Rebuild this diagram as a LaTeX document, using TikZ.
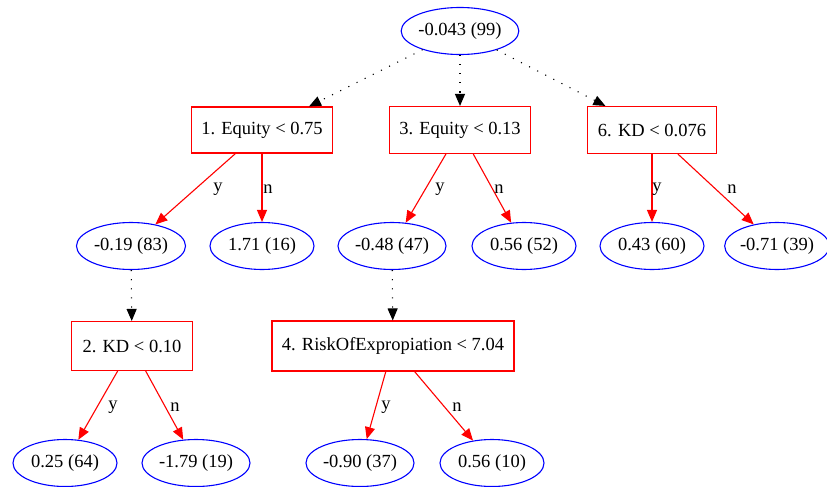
\documentclass[tikz,border=0pt]{standalone}
\usepackage{fontspec}
\setmainfont{Liberation Serif}
\usetikzlibrary{shapes.geometric,arrows.meta}
\tikzset{
  leaf/.style={ellipse,draw=blue,line width=1.1pt,inner sep=0pt,minimum height=47pt,font=\fontsize{18.5pt}{20pt}\selectfont},
  split/.style={rectangle,draw=red,line width=1.1pt,inner sep=0pt,minimum height=47pt,font=\fontsize{18.5pt}{20pt}\selectfont},
  tip/.style={-{Triangle[length=12pt,width=10pt]}},
  dotline/.style={tip,black,line width=1.1pt,dash pattern=on 1.1pt off 8pt},
  redline/.style={tip,red,line width=1.1pt},
  lab/.style={font=\fontsize{18.5pt}{20pt}\selectfont,inner sep=0pt}
}
\begin{document}
\begin{tikzpicture}[x=1pt,y=-1pt]
\useasboundingbox (0,0) rectangle (827,487);
\node[leaf,minimum width=117pt] (r) at (460,31) {-0.043 (99)};
\node[split,minimum width=141pt,minimum height=46pt] (b1) at (262,130) {1. Equity < 0.75};
\node[split,minimum width=141pt] (b3) at (460,130) {3. Equity < 0.13};
\node[split,minimum width=129pt] (b6) at (652,130) {6. KD < 0.076};
\node[leaf,minimum width=109pt] (e1) at (131,246) {-0.19 (83)};
\node[leaf,minimum width=104pt] (e2) at (262,246) {1.71 (16)};
\node[leaf,minimum width=108pt] (e3) at (392,246) {-0.48 (47)};
\node[leaf,minimum width=104pt] (e4) at (524,246) {0.56 (52)};
\node[leaf,minimum width=104pt] (e5) at (652,246) {0.43 (60)};
\node[leaf,minimum width=102pt] (e6) at (777,246) {-0.71 (39)};
\node[split,minimum width=121pt,minimum height=49pt] (b2) at (132,346) {2. KD < 0.10};
\node[split,minimum width=242pt,minimum height=50pt] (b4) at (393,346) {4. RiskOfExpropiation < 7.04};
\node[leaf,minimum width=104pt] (f1) at (65,463) {0.25 (64)};
\node[leaf,minimum width=108pt] (f2) at (196,463) {-1.79 (19)};
\node[leaf,minimum width=108pt] (f3) at (360,463) {-0.90 (37)};
\node[leaf,minimum width=104pt] (f4) at (492,463) {0.56 (10)};
\draw[dotline] (r) -- (b1);
\draw[dotline] (r) -- (b3);
\draw[dotline] (r) -- (b6);
\draw[dotline] (e1) -- (b2);
\draw[dotline] (e3) -- (b4);
\draw[redline] (b1) -- (e1);
\draw[redline] (b1) -- (e2);
\draw[redline] (b3) -- (e3);
\draw[redline] (b3) -- (e4);
\draw[redline] (b6) -- (e5);
\draw[redline] (b6) -- (e6);
\draw[redline] (b2) -- (f1);
\draw[redline] (b2) -- (f2);
\draw[redline] (b4) -- (f3);
\draw[redline] (b4) -- (f4);
\node[lab] (l1) at (218,189) {y};
\node[lab] (l2) at (268,189) {n};
\node[lab] (l3) at (440,189) {y};
\node[lab] (l4) at (499,189) {n};
\node[lab] (l5) at (657,189) {y};
\node[lab] (l6) at (732,189) {n};
\node[lab] (l7) at (113,407) {y};
\node[lab] (l8) at (175,407) {n};
\node[lab] (l9) at (386,407) {y};
\node[lab] (l10) at (457,407) {n};
\end{tikzpicture}
\end{document}
